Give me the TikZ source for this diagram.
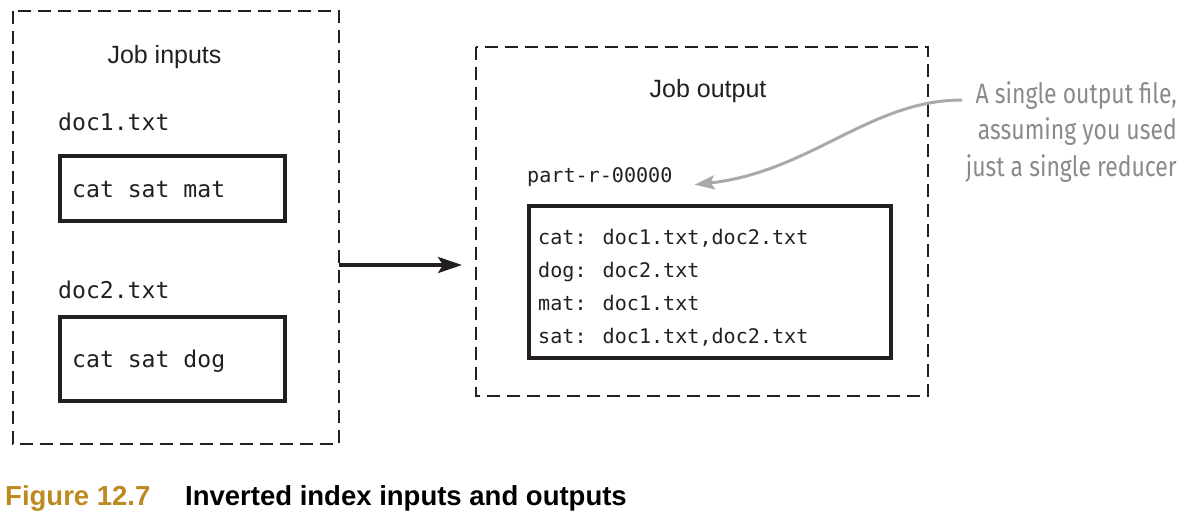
\documentclass[tikz,border=0pt]{standalone}
\usepackage{fontspec}
\setmainfont{Liberation Sans}
\newfontfamily\codefont{DejaVu Sans Mono}
\newfontfamily\handfont[FakeStretch=0.82]{Fira Sans}
\usetikzlibrary{arrows.meta}
\definecolor{ink}{HTML}{231F20}
\definecolor{gold}{HTML}{BC8A1F}
\definecolor{notegray}{HTML}{8A8A8C}
\definecolor{arrowgray}{HTML}{A7A9AC}
\begin{document}
\begin{tikzpicture}[x=1pt,y=-1pt,
  dashbox/.style={draw=ink,line width=2pt,dash pattern=on 13pt off 7pt},
  filebox/.style={draw=ink,line width=4pt},
  lbl/.style={inner sep=0pt,anchor=base,font=\fontsize{25}{30}\selectfont,text=ink},
  code/.style={inner sep=0pt,anchor=base west,text=ink},
  bigcode/.style={code,font=\codefont\fontsize{23.1}{28}\selectfont},
  smallcode/.style={code,font=\codefont\fontsize{20.1}{24}\selectfont},
  note/.style={inner sep=0pt,align=right,text=notegray,font=\handfont\fontsize{28}{36.5}\selectfont}
]
\useasboundingbox (0,0) rectangle (1193,516);
% dashed containers
\draw[dashbox] (13,11) rectangle (339,444);
\coordinate (inW) at (13,227.5);
\coordinate (inE) at (339,227.5);
\draw[dashbox] (476,47) rectangle (928,396);
\coordinate (outW) at (476,221.5);
% titles
\node[lbl] (jin) at (164.5,64) {Job inputs};
\node[lbl] (jout) at (708,98) {Job output};
% input files
\node[bigcode] (d1) at (58,130) {doc1.txt};
\draw[filebox] (60,156) rectangle (285,221);
\node[bigcode] (c1) at (72,197) {cat sat mat};
\node[bigcode] (d2) at (58,298) {doc2.txt};
\draw[filebox] (60,317) rectangle (285,401);
\node[bigcode] (c2) at (72,367) {cat sat dog};
% output file
\node[smallcode] (part) at (527,182) {part-r-00000};
\draw[filebox] (529,206) rectangle (891,358);
\node[smallcode] (o1) at (538,244) {cat: doc1.txt,doc2.txt};
\node[smallcode] (o2) at (538,277) {dog: doc2.txt};
\node[smallcode] (o3) at (538,310) {mat: doc1.txt};
\node[smallcode] (o4) at (538,343) {sat: doc1.txt,doc2.txt};
% main arrow
\coordinate (ay) at (0,265);
\draw[ink,line width=3.5pt,-{Stealth[length=24pt,width=16pt,inset=5pt]}]
  (inE |- ay) -- ([xshift=-14pt]outW |- ay);
% annotation
\node[note,anchor=north east] (ann) at (1177,81) {A single output file,\\assuming you used\\just a single reducer};
\coordinate (annstart) at (962,100);
\draw[arrowgray,line width=3pt,-{Stealth[length=20pt,width=14pt,inset=4pt]}]
  (annstart) .. controls (870,100) and (810,172) .. ([xshift=22pt,yshift=-8pt]part.east);
% caption
\node[inner sep=0pt,anchor=base west,text=gold,font=\bfseries\fontsize{27.5}{32}\selectfont] (fig) at (5,505) {Figure 12.7};
\node[inner sep=0pt,anchor=base west,text=black,font=\bfseries\fontsize{27.5}{32}\selectfont] (cap) at (185,505) {Inverted index inputs and outputs};
\end{tikzpicture}
\end{document}
